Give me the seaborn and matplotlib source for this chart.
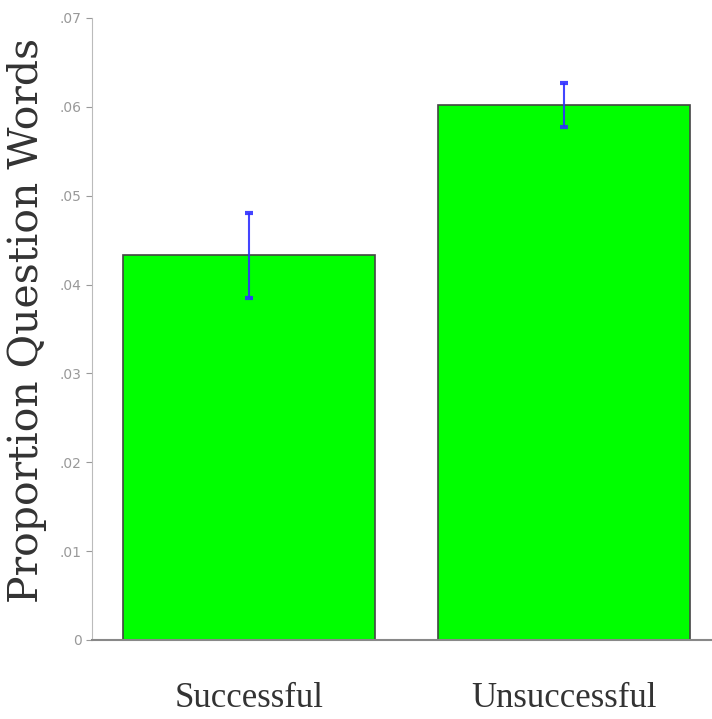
import pandas as pd
import matplotlib
matplotlib.use("Agg")
import matplotlib.pyplot as plt
import seaborn as sns

categories = ["Successful", "Unsuccessful"]
proportions = [0.0433, 0.0602]
errors = [0.0048, 0.0025]
ytick_values = [0, 0.01, 0.02, 0.03, 0.04, 0.05, 0.06, 0.07]
ytick_labels = ["0", ".01", ".02", ".03", ".04", ".05", ".06", ".07"]

df = pd.DataFrame({"group": categories, "proportion": proportions, "err": errors})

sns.set_style("white")

fig = plt.figure(figsize=(7.12, 7.19), dpi=100)
ax = fig.add_axes([0.129, 0.110, 0.871, 0.865])

sns.barplot(data=df, x="group", y="proportion", color="#00ff00",
            saturation=1, width=0.8, edgecolor="#444444", linewidth=1.2,
            errorbar=None, ax=ax)

ax.errorbar(x=range(len(df)), y=df["proportion"], yerr=df["err"],
            fmt="none", ecolor="#3030ff", elinewidth=1.5, capsize=3,
            capthick=3, alpha=0.9)

ax.set_xlim(-0.5, 1.47)
ax.set_ylim(0, 0.07)
ax.set_yticks(ytick_values)
ax.set_yticklabels(ytick_labels)
ax.tick_params(axis="y", colors="#999999", labelsize=10, length=4, direction="out", left=True)
ax.tick_params(axis="x", length=0, pad=30)
for lbl in ax.get_xticklabels():
    lbl.set_fontfamily("Liberation Serif")
    lbl.set_fontsize(25)
    lbl.set_color("#333333")

ax.set_xlabel("")
ax.set_ylabel("Proportion Question Words", fontsize=29.5, family="DejaVu Serif",
              color="#333333")
ax.yaxis.set_label_coords(-0.073, 0.513)

sns.despine(ax=ax, top=True, right=True)
ax.spines["left"].set_color("#bbbbbb")
ax.spines["bottom"].set_color("#888888")
ax.spines["bottom"].set_linewidth(1.5)

fig.savefig("out.png", dpi=100)
